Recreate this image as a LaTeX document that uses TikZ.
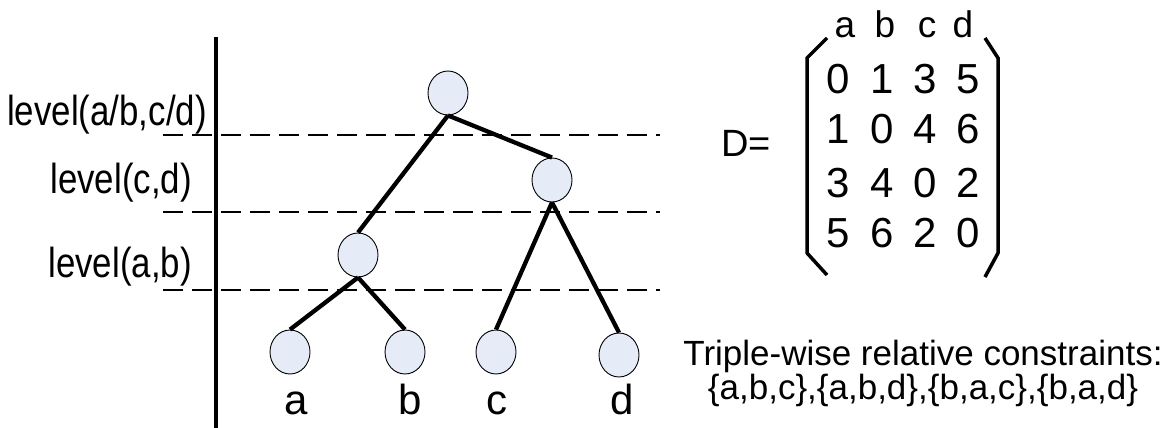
\documentclass[tikz,border=0pt]{standalone}
\usepackage{fontspec}
\setmainfont{Liberation Sans}
\newfontfamily\narrowfont{Liberation Sans}[FakeStretch=0.83]
\usetikzlibrary{shapes.geometric}
\definecolor{nodefill}{RGB}{230,236,247}
\begin{document}
\begin{tikzpicture}[x=1pt,y=-1pt,
  treenode/.style={ellipse,draw=black,line width=0.9pt,fill=nodefill,minimum width=40pt,minimum height=44pt,inner sep=0pt},
  treeedge/.style={line width=4.3pt},
  levelline/.style={line width=2.7pt,dash pattern=on 20pt off 9pt},
  lvltext/.style={font=\narrowfont\fontsize{42}{44}\selectfont,inner sep=0pt,anchor=base east},
  leaftext/.style={font=\fontsize{42}{44}\selectfont,inner sep=0pt,anchor=base},
  digit/.style={font=\fontsize{42}{44}\selectfont,inner sep=0pt,anchor=base},
  head/.style={font=\fontsize{37}{40}\selectfont,inner sep=0pt,anchor=base},
  plain/.style={font=\fontsize{35}{38}\selectfont,inner sep=0pt,anchor=base},
  bracket/.style={line width=3.5pt}]
\useasboundingbox (0,0) rectangle (1176,428);
% axis
\coordinate (axtop) at (216,37);
\coordinate (axbot) at (216,428);
\draw[line width=4pt] (axtop) -- (axbot);
% level lines
\coordinate (l1a) at (163,135); \coordinate (l1b) at (660,135);
\coordinate (l2a) at (163,212); \coordinate (l2b) at (660,212);
\coordinate (l3a) at (163,290); \coordinate (l3b) at (660,290);
\draw[levelline] (l1a) -- (l1b);
\draw[levelline] (l2a) -- (l2b);
\draw[levelline] (l3a) -- (l3b);
% level labels
\node[lvltext] (lab1) at (207,125) {level(a/b,c/d)};
\node[lvltext] (lab2) at (192,193) {level(c,d)};
\node[lvltext] (lab3) at (192,277) {level(a,b)};
% tree
\node[treenode] (root) at (448,93) {};
\node[treenode] (rc) at (552,180) {};
\node[treenode] (lc) at (358,255) {};
\node[treenode] (na) at (290,352) {};
\node[treenode] (nb) at (405,352) {};
\node[treenode] (nc) at (496,352) {};
\node[treenode] (nd) at (619,355) {};
\draw[treeedge] (root.south) -- (lc.north);
\draw[treeedge] (root.south) -- (rc.north);
\draw[treeedge] (rc.south) -- (nc.north);
\draw[treeedge] (rc.south) -- (nd.north);
\draw[treeedge] (lc.south) -- (na.north);
\draw[treeedge] (lc.south) -- (nb.north);
% leaf labels
\node[leaftext] (ta) at (296,414) {a};
\node[leaftext] (tb) at (410,414) {b};
\node[leaftext] (tc) at (497,414) {c};
\node[leaftext] (td) at (622,414) {d};
% matrix
\node[plain,anchor=base west,font=\fontsize{38}{40}\selectfont] (deq) at (721,156) {D=};
\node[head] (ha) at (845,38) {a};
\node[head] (hb) at (885,38) {b};
\node[head] (hc) at (927,38) {c};
\node[head] (hd) at (963,38) {d};
\foreach \r/\yy/\va/\vb/\vc/\vd in {1/93/0/1/3/5, 2/143/1/0/4/6, 3/197/3/4/0/2, 4/247/5/6/2/0}{
  \node[digit] (m\r a) at (838,\yy) {\va};
  \node[digit] (m\r b) at (882,\yy) {\vb};
  \node[digit] (m\r c) at (925,\yy) {\vc};
  \node[digit] (m\r d) at (968,\yy) {\vd};
}
\draw[bracket] (827,38) -- (807,58) -- (807,253) -- (827,275);
\draw[bracket] (985,38) -- (998,58) -- (998,253) -- (985,277);
% constraints
\node[plain] (tw1) at (923,365) {Triple-wise relative constraints:};
\node[plain] (tw2) at (923,399) {\{a,b,c\},\{a,b,d\},\{b,a,c\},\{b,a,d\}};
\end{tikzpicture}
\end{document}
